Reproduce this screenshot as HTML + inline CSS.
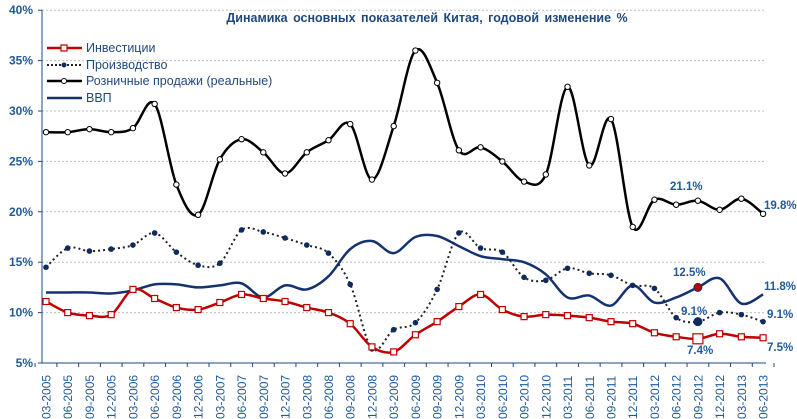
<!DOCTYPE html>
<html><head><meta charset="utf-8"><style>
body{margin:0;background:#fff;}
svg{display:block;font-family:"Liberation Sans",Arial,sans-serif;}
</style></head><body>
<svg id="s" width="797" height="419" xmlns="http://www.w3.org/2000/svg">
<g id="grid"></g>
<text x="427" y="22" text-anchor="middle" font-size="12.5" font-weight="bold" fill="#1F497D" word-spacing="2">Динамика основных  показателей Китая, годовой изменение %</text>
<g id="series"></g>
<g font-size="12.5" fill="#1F497D">
<line x1="47" y1="48" x2="82" y2="48" stroke="#C00000" stroke-width="2.5"/><rect x="61" y="45" width="6" height="6" fill="#fff" stroke="#C00000" stroke-width="1.2"/>
<text x="86" y="52">Инвестиции</text>
<line x1="47" y1="65" x2="82" y2="65" stroke="#222" stroke-width="2" stroke-dasharray="2,2"/><circle cx="64" cy="65" r="2.5" fill="#0F2A5E"/>
<text x="86" y="69">Производство</text>
<line x1="47" y1="81" x2="82" y2="81" stroke="#000" stroke-width="2.5"/><circle cx="64" cy="81" r="2.5" fill="#fff" stroke="#000"/>
<text x="86" y="85">Розничные продажи (реальные)</text>
<line x1="47" y1="98" x2="82" y2="98" stroke="#14326E" stroke-width="2.5"/>
<text x="86" y="102">ВВП</text>
</g>
<g font-size="11.5" font-weight="bold" fill="#1F5A9A">
<text x="670" y="190">21.1%</text>
<text x="764" y="209">19.8%</text>
<text x="673" y="276">12.5%</text>
<text x="764" y="290">11.8%</text>
<text x="681" y="315">9.1%</text>
<text x="767" y="318">9.1%</text>
<text x="687" y="354">7.4%</text>
<text x="767" y="351">7.5%</text>
</g>
</svg>
<script>
var NS="http://www.w3.org/2000/svg",s=document.getElementById('s');
function el(p,t,a,txt){var e=document.createElementNS(NS,t);for(var k in a)e.setAttribute(k,a[k]);if(txt)e.textContent=txt;p.appendChild(e);return e;}
function Y(v){return 363-(v-5)*10.08;}
function X(i){return 46+i*21.73;}
var g=document.getElementById('grid');
for(var v=5;v<=40;v+=5){var y=Y(v);
 if(v>5)el(g,'line',{x1:42,y1:y,x2:766,y2:y,stroke:'#BFBFBF','stroke-dasharray':'2,2','stroke-width':1});
 el(g,'line',{x1:38,y1:y,x2:42,y2:y,stroke:'#1F497D'});
 el(g,'text',{x:33,y:y+4,'text-anchor':'end','font-size':12,'font-weight':'bold',fill:'#1F5A9A'},v+'%');}
el(g,'line',{x1:42,y1:Y(40),x2:42,y2:363,stroke:'#1F497D'});
el(g,'line',{x1:42,y1:363,x2:766,y2:363,stroke:'#1F497D'});
var labs=[];var ms=['03','06','09','12'];
for(var i=0;i<34;i++){var q=i%4,yr=2005+Math.floor(i/4);labs.push(ms[q]+'-'+yr);}
for(var i=0;i<34;i++){var x=X(i);
 el(g,'line',{x1:x+10.9,y1:363,x2:x+10.9,y2:367,stroke:'#1F497D'});
 el(g,'text',{x:0,y:0,transform:'translate('+(x+4.5)+',419) rotate(-90)','font-size':12,fill:'#1F5A9A'},labs[i]);}
el(g,'line',{x1:X(0)-10.9,y1:363,x2:X(0)-10.9,y2:367,stroke:'#1F497D'});
function path(d){var p=[];for(var i=0;i<d.length;i++)p.push([X(i),Y(d[i])]);
 var s='M'+p[0][0]+','+p[0][1];
 for(var i=0;i<p.length-1;i++){var p0=p[i-1]||p[i],p1=p[i],p2=p[i+1],p3=p[i+2]||p2;
  var c1=[p1[0]+(p2[0]-p0[0])/6,p1[1]+(p2[1]-p0[1])/6],c2=[p2[0]-(p3[0]-p1[0])/6,p2[1]-(p3[1]-p1[1])/6];
  s+=' C'+c1[0]+','+c1[1]+' '+c2[0]+','+c2[1]+' '+p2[0]+','+p2[1];}
 return s;}
var sg=document.getElementById('series');
var inv=[11.1,10.0,9.7,9.8,12.3,11.4,10.5,10.3,11.0,11.8,11.4,11.1,10.5,10.0,8.9,6.6,6.1,7.8,9.1,10.6,11.8,10.3,9.6,9.8,9.7,9.5,9.1,8.9,8.0,7.6,7.4,7.9,7.6,7.5];
var prod=[14.5,16.4,16.1,16.3,16.7,17.9,16.0,14.7,14.9,18.2,18.0,17.4,16.7,15.9,12.8,6.4,8.3,9.0,12.3,17.9,16.4,16.0,13.5,13.2,14.4,13.9,13.7,12.7,12.4,9.5,9.1,10.0,9.8,9.1];
var ret=[27.9,27.9,28.2,27.9,28.3,30.7,22.7,19.7,25.2,27.2,25.9,23.8,25.9,27.1,28.7,23.2,28.5,36.0,32.8,26.1,26.4,25.0,23.0,23.7,32.4,24.6,29.2,18.5,21.2,20.7,21.1,20.2,21.3,19.8];
var gdp=[12.0,12.0,12.0,11.9,12.2,12.8,12.8,12.5,12.7,12.9,11.5,12.7,12.3,13.6,16.3,17.1,15.9,17.5,17.6,16.6,15.6,15.3,15.0,13.8,11.5,11.7,10.7,12.7,11.0,11.5,12.5,13.4,10.9,11.8];
el(sg,'path',{d:path(ret),fill:'none',stroke:'#000','stroke-width':2.5});
ret.forEach(function(v,i){el(sg,'circle',{cx:X(i),cy:Y(v),r:2.7,fill:'#fff',stroke:'#000','stroke-width':1});});
el(sg,'path',{d:path(gdp),fill:'none',stroke:'#14326E','stroke-width':2.5});
el(sg,'path',{d:path(prod),fill:'none',stroke:'#222','stroke-width':2,'stroke-dasharray':'2,3'});
prod.forEach(function(v,i){el(sg,'circle',{cx:X(i),cy:Y(v),r:i==30?4.5:2.8,fill:'#0F2A5E'});});
el(sg,'path',{d:path(inv),fill:'none',stroke:'#C00000','stroke-width':2.5});
inv.forEach(function(v,i){var r=i==30?5:3;el(sg,'rect',{x:X(i)-r,y:Y(v)-r,width:2*r,height:2*r,fill:'#fff',stroke:'#C00000','stroke-width':1.2});});
el(sg,'circle',{cx:X(30),cy:Y(12.5),r:4,fill:'#C00000',stroke:'#14326E'});
</script>
</body></html>
